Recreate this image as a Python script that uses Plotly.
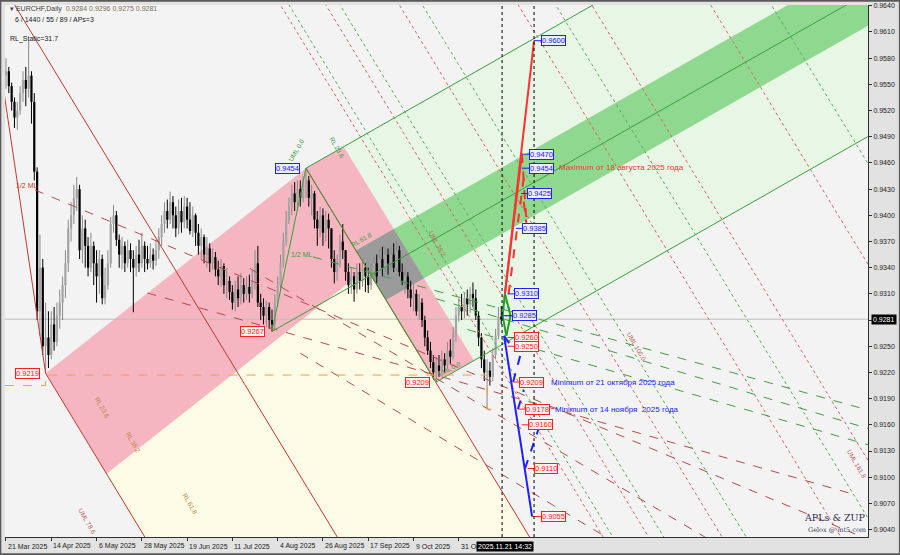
import plotly.graph_objects as go

# ---------------- data ----------------
OPEN = [0.9560, 0.9565, 0.9548, 0.9530, 0.9512, 0.9520, 0.9540, 0.9555, 0.9545, 0.9560,
        0.9530, 0.9450, 0.9290, 0.9340, 0.9250, 0.9260, 0.9240, 0.9275, 0.9255, 0.9285,
        0.9300, 0.9320, 0.9345, 0.9385, 0.9400, 0.9420, 0.9430, 0.9360, 0.9385, 0.9365,
        0.9340, 0.9365, 0.9345, 0.9330, 0.9350, 0.9305, 0.9320, 0.9345, 0.9390, 0.9400,
        0.9372, 0.9355, 0.9365, 0.9345, 0.9360, 0.9350, 0.9340, 0.9355, 0.9345, 0.9365,
        0.9350, 0.9345, 0.9355, 0.9348, 0.9360, 0.9375, 0.9390, 0.9405, 0.9395, 0.9415,
        0.9400, 0.9385, 0.9405, 0.9392, 0.9410, 0.9395, 0.9382, 0.9400, 0.9380, 0.9365,
        0.9375, 0.9355, 0.9362, 0.9345, 0.9352, 0.9338, 0.9330, 0.9342, 0.9320, 0.9325,
        0.9312, 0.9300, 0.9315, 0.9305, 0.9320, 0.9310, 0.9318, 0.9310, 0.9325, 0.9345,
        0.9300, 0.9295, 0.9285, 0.9295, 0.9280, 0.9275, 0.9300, 0.9320, 0.9345, 0.9370,
        0.9395, 0.9410, 0.9425, 0.9415, 0.9430, 0.9420, 0.9435, 0.9440, 0.9420, 0.9425,
        0.9395, 0.9385, 0.9400, 0.9380, 0.9395, 0.9385, 0.9350, 0.9335, 0.9345, 0.9370,
        0.9360, 0.9335, 0.9320, 0.9330, 0.9315, 0.9335, 0.9325, 0.9340, 0.9330, 0.9320,
        0.9335, 0.9345, 0.9330, 0.9350, 0.9340, 0.9355, 0.9345, 0.9355, 0.9340, 0.9360,
        0.9335, 0.9325, 0.9330, 0.9315, 0.9305, 0.9310, 0.9290, 0.9300, 0.9280, 0.9260,
        0.9245, 0.9232, 0.9220, 0.9228, 0.9222, 0.9235, 0.9228, 0.9245, 0.9238, 0.9265,
        0.9285, 0.9295, 0.9290, 0.9305, 0.9298, 0.9310, 0.9305, 0.9285, 0.9260, 0.9235,
        0.9220, 0.9222, 0.9215, 0.9240, 0.9262, 0.9284]
HIGH = [0.9580, 0.9570, 0.9552, 0.9535, 0.9530, 0.9548, 0.9565, 0.9570, 0.9601, 0.9565,
        0.9540, 0.9455, 0.9378, 0.9350, 0.9300, 0.9290, 0.9290, 0.9295, 0.9300, 0.9315,
        0.9330, 0.9360, 0.9395, 0.9415, 0.9435, 0.9444, 0.9435, 0.9400, 0.9395, 0.9375,
        0.9380, 0.9370, 0.9360, 0.9360, 0.9355, 0.9340, 0.9360, 0.9398, 0.9412, 0.9405,
        0.9378, 0.9375, 0.9370, 0.9372, 0.9368, 0.9360, 0.9365, 0.9372, 0.9380, 0.9370,
        0.9365, 0.9368, 0.9362, 0.9372, 0.9385, 0.9400, 0.9415, 0.9418, 0.9427, 0.9422,
        0.9410, 0.9418, 0.9420, 0.9422, 0.9420, 0.9415, 0.9410, 0.9402, 0.9390, 0.9385,
        0.9378, 0.9375, 0.9368, 0.9362, 0.9358, 0.9348, 0.9350, 0.9345, 0.9340, 0.9330,
        0.9320, 0.9325, 0.9330, 0.9334, 0.9328, 0.9330, 0.9332, 0.9337, 0.9360, 0.9365,
        0.9310, 0.9305, 0.9302, 0.9300, 0.9292, 0.9310, 0.9330, 0.9355, 0.9380, 0.9405,
        0.9420, 0.9435, 0.9438, 0.9440, 0.9440, 0.9445, 0.9454, 0.9445, 0.9435, 0.9428,
        0.9405, 0.9410, 0.9408, 0.9405, 0.9402, 0.9385, 0.9360, 0.9355, 0.9378, 0.9390,
        0.9360, 0.9345, 0.9340, 0.9335, 0.9345, 0.9345, 0.9350, 0.9345, 0.9340, 0.9345,
        0.9352, 0.9355, 0.9362, 0.9364, 0.9365, 0.9362, 0.9365, 0.9368, 0.9371, 0.9365,
        0.9345, 0.9340, 0.9335, 0.9325, 0.9322, 0.9315, 0.9310, 0.9305, 0.9285, 0.9268,
        0.9255, 0.9240, 0.9238, 0.9240, 0.9245, 0.9242, 0.9255, 0.9258, 0.9272, 0.9295,
        0.9305, 0.9310, 0.9312, 0.9315, 0.9318, 0.9323, 0.9315, 0.9290, 0.9265, 0.9245,
        0.9235, 0.9232, 0.9248, 0.9270, 0.9295, 0.9296]
LOW = [0.9545, 0.9540, 0.9520, 0.9500, 0.9498, 0.9515, 0.9530, 0.9525, 0.9535, 0.9505,
       0.9440, 0.9280, 0.9262, 0.9240, 0.9219, 0.9225, 0.9235, 0.9245, 0.9250, 0.9270,
       0.9280, 0.9305, 0.9335, 0.9370, 0.9390, 0.9405, 0.9350, 0.9345, 0.9340, 0.9330,
       0.9335, 0.9320, 0.9300, 0.9310, 0.9298, 0.9298, 0.9315, 0.9340, 0.9380, 0.9365,
       0.9340, 0.9338, 0.9335, 0.9340, 0.9335, 0.9289, 0.9330, 0.9335, 0.9340, 0.9335,
       0.9338, 0.9340, 0.9338, 0.9342, 0.9350, 0.9365, 0.9380, 0.9385, 0.9390, 0.9385,
       0.9375, 0.9378, 0.9380, 0.9385, 0.9385, 0.9378, 0.9375, 0.9365, 0.9355, 0.9350,
       0.9345, 0.9340, 0.9335, 0.9338, 0.9330, 0.9320, 0.9318, 0.9310, 0.9305, 0.9303,
       0.9292, 0.9290, 0.9295, 0.9298, 0.9300, 0.9303, 0.9300, 0.9305, 0.9315, 0.9295,
       0.9280, 0.9275, 0.9272, 0.9270, 0.9267, 0.9270, 0.9295, 0.9315, 0.9340, 0.9365,
       0.9390, 0.9400, 0.9405, 0.9405, 0.9410, 0.9415, 0.9420, 0.9410, 0.9400, 0.9385,
       0.9365, 0.9375, 0.9365, 0.9370, 0.9362, 0.9340, 0.9322, 0.9325, 0.9340, 0.9350,
       0.9325, 0.9310, 0.9310, 0.9301, 0.9310, 0.9315, 0.9318, 0.9312, 0.9311, 0.9315,
       0.9325, 0.9322, 0.9328, 0.9330, 0.9335, 0.9332, 0.9338, 0.9335, 0.9338, 0.9330,
       0.9320, 0.9310, 0.9305, 0.9295, 0.9290, 0.9285, 0.9280, 0.9272, 0.9250, 0.9240,
       0.9225, 0.9212, 0.9209, 0.9215, 0.9218, 0.9220, 0.9225, 0.9230, 0.9235, 0.9255,
       0.9278, 0.9280, 0.9282, 0.9285, 0.9288, 0.9295, 0.9280, 0.9250, 0.9225, 0.9210,
       0.9178, 0.9205, 0.9210, 0.9235, 0.9258, 0.9275]
CLOSE = [0.9565, 0.9548, 0.9530, 0.9512, 0.9520, 0.9540, 0.9555, 0.9545, 0.9560, 0.9530,
         0.9450, 0.9290, 0.9340, 0.9250, 0.9260, 0.9240, 0.9275, 0.9255, 0.9285, 0.9300,
         0.9320, 0.9345, 0.9385, 0.9400, 0.9420, 0.9430, 0.9360, 0.9385, 0.9365, 0.9340,
         0.9365, 0.9345, 0.9330, 0.9350, 0.9305, 0.9320, 0.9345, 0.9390, 0.9400, 0.9372,
         0.9355, 0.9365, 0.9345, 0.9360, 0.9350, 0.9340, 0.9355, 0.9345, 0.9365, 0.9350,
         0.9345, 0.9355, 0.9348, 0.9360, 0.9375, 0.9390, 0.9405, 0.9395, 0.9415, 0.9400,
         0.9385, 0.9405, 0.9392, 0.9410, 0.9395, 0.9382, 0.9400, 0.9380, 0.9365, 0.9375,
         0.9355, 0.9362, 0.9345, 0.9352, 0.9338, 0.9330, 0.9342, 0.9320, 0.9325, 0.9312,
         0.9300, 0.9315, 0.9305, 0.9320, 0.9310, 0.9318, 0.9310, 0.9325, 0.9345, 0.9300,
         0.9295, 0.9285, 0.9295, 0.9280, 0.9275, 0.9300, 0.9320, 0.9345, 0.9370, 0.9395,
         0.9410, 0.9425, 0.9415, 0.9430, 0.9420, 0.9435, 0.9440, 0.9420, 0.9425, 0.9395,
         0.9385, 0.9400, 0.9380, 0.9395, 0.9385, 0.9350, 0.9335, 0.9345, 0.9370, 0.9360,
         0.9335, 0.9320, 0.9330, 0.9315, 0.9335, 0.9325, 0.9340, 0.9330, 0.9320, 0.9335,
         0.9345, 0.9330, 0.9350, 0.9340, 0.9355, 0.9345, 0.9355, 0.9340, 0.9360, 0.9335,
         0.9325, 0.9330, 0.9315, 0.9305, 0.9310, 0.9290, 0.9300, 0.9280, 0.9260, 0.9245,
         0.9232, 0.9220, 0.9228, 0.9222, 0.9235, 0.9228, 0.9245, 0.9238, 0.9265, 0.9285,
         0.9295, 0.9290, 0.9305, 0.9298, 0.9310, 0.9305, 0.9285, 0.9260, 0.9235, 0.9220,
         0.9222, 0.9215, 0.9240, 0.9262, 0.9284, 0.9281]
BARS = list(range(len(CLOSE)))          # bar 0 = 21 Mar 2025, one bar per trading day

X_TICK_BARS = [0, 16, 32, 48, 64, 80, 96, 112, 128, 144, 160]
X_TICK_TEXT = ["21 Mar 2025", "14 Apr 2025", "6 May 2025", "28 May 2025", "19 Jun 2025",
               "11 Jul 2025", "4 Aug 2025", "26 Aug 2025", "17 Sep 2025", "9 Oct 2025", "31 Oct 2025"]
Y_TICKS = [0.9040, 0.9070, 0.9100, 0.9130, 0.9160, 0.9190, 0.9220, 0.9250, 0.9280, 0.9310,
           0.9340, 0.9370, 0.9400, 0.9430, 0.9460, 0.9490, 0.9520, 0.9550, 0.9580, 0.9610, 0.9640]
LAST_PRICE = 0.9281
X_RANGE = [-0.35, 304.6]
Y_RANGE = [0.90315, 0.96409]

# pitchfork anchor points (bar, price)
RED_FORK = [(-8, 0.9700), (14, 0.9219), (106, 0.9454)]
GREEN_FORK = [(94, 0.9267), (106, 0.9454), (152, 0.9209)]
PINK_A_OFFSET = -0.017
PINK_B_RL = 0.382
BAND_HALF = 0.0038
UML_LEVELS = [1.382, 1.618, 2.0, 2.618, 3.0, 3.618]
RL_LEVELS = [0.618, 1.0, 1.618, 2.618, 4.236]

# hand-drawn helper lines (bar, price) pairs
RED_DASHED = [[(10.25, 0.9429), (300, 0.9035)],
              [(86.2, 0.9339), (300, 0.8930)],
              [(50.0, 0.9311), (300, 0.9080)],
              [(104.0, 0.9242), (300, 0.8860)]]
GREEN_DASHED = [[(108.5, 0.93523), (304.6, 0.91770)],
                [(152.0, 0.93044), (304.6, 0.91558)],
                [(163.0, 0.92692), (304.6, 0.91372)]]
ORANGE_DASHED = [(-0.35, 0.9205), (14, 0.9205), (14, 0.9217), (170, 0.9217), (170, 0.9178), (176, 0.9178)]

PROJ_RED_SOLID = [[(176.3, 0.9310), (182.3, 0.9470)], [(176.3, 0.9310), (186.6, 0.9600)]]
PROJ_RED_DASH = [[(182.3, 0.9470), (184.1, 0.9385)], [(177.6, 0.9310), (183.4, 0.9454)],
                 [(184.1, 0.9385), (182.6, 0.9425)]]
PROJ_BLUE_SOLID = [[(176.0, 0.9262), (185.9, 0.9055)]]
PROJ_BLUE_DASH = [[(179.2, 0.9209), (182.6, 0.9250)], [(180.9, 0.9178), (183.0, 0.9200)],
                  [(183.4, 0.9110), (188.7, 0.9160)], [(176.0, 0.9262), (178.5, 0.9250)]]
PROJ_GREEN = [[(176.3, 0.9310), (175.5, 0.9285), (176.8, 0.9262)],
              [(176.3, 0.9310), (178.3, 0.9285), (176.8, 0.9262)]]

BLUE_LABELS = [(0.9600, 186.6, 189.0), (0.9470, 182.3, 184.8), (0.9454, 182.3, 184.8),
               (0.9425, 182.0, 184.1), (0.9385, 180.2, 182.3), (0.9310, 177.2, 179.5),
               (0.9285, 176.5, 178.8)]
RED_LABELS = [(0.9260, 177.2, 179.5), (0.9250, 177.2, 179.5), (0.9209, 179.2, 181.3),
              (0.9178, 181.0, 183.4), (0.9160, 182.2, 184.5), (0.9110, 184.3, 186.6),
              (0.9055, 186.0, 189.0)]
LEFT_LABELS = [(0.9454, 95.1, "blue"), (0.9267, 82.7, "red"), (0.9219, 3.2, "red"), (0.9209, 141.0, "red")]

FONT = "Liberation Sans"
FAR = 420.0


# ---------------- geometry helpers ----------------
def slope(a, b):
    return (b[1] - a[1]) / (b[0] - a[0])


def at(p, m, x):
    return (x, p[1] + m * (x - p[0]))


def cross(p, m1, q, m2):
    x = (q[1] - p[1] + m1 * p[0] - m2 * q[0]) / (m1 - m2)
    return (x, p[1] + m1 * (x - p[0]))


R0, R1, R2 = RED_FORK
RM = ((R1[0] + R2[0]) / 2, (R1[1] + R2[1]) / 2)
m_r = slope(R0, RM)
h_r = slope(R1, R2)
D_r = (R2[0] - R0[0]) - (R2[1] - R0[1]) / m_r

G0, G1, G2 = GREEN_FORK
GM = ((G1[0] + G2[0]) / 2, (G1[1] + G2[1]) / 2)
m_g = slope(G0, GM)
h_g = slope(G1, G2)
RL_UNIT = GM[0] - G0[0]

fig = go.Figure()


def poly(pts, color):
    fig.add_trace(go.Scatter(x=[p[0] for p in pts] + [pts[0][0]], y=[p[1] for p in pts] + [pts[0][1]],
                             mode="lines", fill="toself", fillcolor=color, line=dict(width=0),
                             hoverinfo="skip", showlegend=False))


def seg(pts, color, width=1, dash="solid"):
    fig.add_trace(go.Scatter(x=[p[0] for p in pts], y=[p[1] for p in pts], mode="lines",
                             line=dict(color=color, width=width, dash=dash),
                             hoverinfo="skip", showlegend=False))


# cream: red fork interior
poly([R1, R2, at(R2, m_r, FAR), at(R1, m_r, FAR)], "#fbfbe6")
# pink A: band along red fork handle
OFF = (R1[0], R1[1] + PINK_A_OFFSET)
poly([R1, R2, cross(R2, m_r, OFF, h_r), cross(R1, m_r, OFF, h_r)], "#f5b6c1")
# light green: green fork interior
poly([G1, at(G1, m_g, FAR), at(G2, m_g, FAR), G2], "#e7f6e5")
# pink B: between handle and RL 38.2
Q = at(GM, m_g, GM[0] + RL_UNIT * PINK_B_RL)
poly([G1, G2, cross(G2, m_g, Q, h_g), cross(G1, m_g, Q, h_g)], "#f5b6c1")
# dark green band around green median
UB = (G0[0], G0[1] + BAND_HALF)
LB = (G0[0], G0[1] - BAND_HALF)
poly([cross(G1, h_g, UB, m_g), at(UB, m_g, FAR), at(LB, m_g, FAR), cross(G1, h_g, LB, m_g)], "#8fd88f")
poly([cross(G1, h_g, UB, m_g), cross(Q, h_g, UB, m_g), cross(Q, h_g, LB, m_g), cross(G1, h_g, LB, m_g)], "#9b9b9b")

# current price line
seg([(X_RANGE[0], LAST_PRICE), (X_RANGE[1], LAST_PRICE)], "#bdbdbd", 1)


# candles (wicks + bodies as line segments so they sit above the filled zones)
def candle_traces(up):
    wx, wy, bx, by = [], [], [], []
    for b, o, h, l, c in zip(BARS, OPEN, HIGH, LOW, CLOSE):
        if (c >= o) != up:
            continue
        wx += [b, b, None]
        wy += [l, h, None]
        lo, hi = min(o, c), max(o, c)
        if hi - lo < 0.00012:
            hi = lo + 0.00012
        bx += [b, b, None]
        by += [lo, hi, None]
    col_w = "#8a8a8a" if up else "#000000"
    col_b = "#a4a4a4" if up else "#000000"
    fig.add_trace(go.Scatter(x=wx, y=wy, mode="lines", line=dict(color=col_w, width=1),
                             hoverinfo="skip", showlegend=False))
    fig.add_trace(go.Scatter(x=bx, y=by, mode="lines", line=dict(color=col_b, width=2.2),
                             hoverinfo="skip", showlegend=False))


candle_traces(True)
candle_traces(False)

# red fork lines
seg([R0, at(R0, m_r, FAR)], "#c0392b", 1)
seg([R0, R1], "#c0392b", 1)
seg([R1, at(R1, m_r, FAR)], "#c0392b", 1)
seg([R2, at(R2, m_r, FAR)], "#c0392b", 1)
for k in UML_LEVELS:
    s = (k - 1) * D_r
    p = (R2[0] + s, R2[1])
    seg([at(p, m_r, -50), at(p, m_r, FAR)], "#e06060", 1, "dot")
for pts in RED_DASHED:
    seg(pts, "#b84a4a", 1, "dash")

# green fork lines
seg([G0, at(G0, m_g, FAR)], "#3aa03a", 1)
seg([G0, G1], "#3aa03a", 1)
seg([G1, G2], "#3aa03a", 1)
seg([G1, at(G1, m_g, FAR)], "#3aa03a", 1)
seg([G2, at(G2, m_g, FAR)], "#3aa03a", 1)
for f in RL_LEVELS:
    p = at(GM, m_g, GM[0] + RL_UNIT * f)
    seg([at(p, h_g, -50), at(p, h_g, FAR)], "#55b055", 1, "dot")
for pts in GREEN_DASHED:
    seg(pts, "#3f9f3f", 1, "dash")

seg(ORANGE_DASHED, "#f0a040", 1, "dash")

# projections
for pts in PROJ_RED_SOLID:
    seg(pts, "#ff3030", 2)
for pts in PROJ_RED_DASH:
    seg(pts, "#ff3030", 2, "dash")
for pts in PROJ_BLUE_SOLID:
    seg(pts, "#2020ff", 2)
for pts in PROJ_BLUE_DASH:
    seg(pts, "#2020ff", 2, "dash")
for pts in PROJ_GREEN:
    seg(pts, "#20a020", 2)
seg([(175.3, 0.9285), (178.6, 0.9285)], "#2020ff", 1)

ann = []


def box(bar, price, color, bg):
    ann.append(dict(x=bar, y=price, xref="x", yref="y", text="%.4f" % price, showarrow=False,
                    xanchor="left", yanchor="middle", font=dict(size=7.5, color=color, family=FONT),
                    bordercolor=color, borderwidth=1, borderpad=0, bgcolor=bg))


for price, t0, b in BLUE_LABELS:
    seg([(t0, price), (b, price)], "#2020ff", 1)
    box(b, price, "#2020ff", "#eeeeff")
for price, t0, b in RED_LABELS:
    seg([(t0, price), (b, price)], "#ff2020", 1)
    box(b, price, "#ff2020", "#fff2f2")
for price, b, c in LEFT_LABELS:
    if c == "blue":
        box(b, price, "#2020ff", "#eeeeff")
    else:
        box(b, price, "#ff2020", "#fff2f2")


def txt(x, y, s, color, size=7, xref="x", yref="y", angle=0, family=FONT, xanchor="left"):
    ann.append(dict(x=x, y=y, xref=xref, yref=yref, text=s, showarrow=False, xanchor=xanchor,
                    yanchor="middle", textangle=angle, font=dict(size=size, color=color, family=family)))


txt(194.7, 0.9455, "Maximum от 18 августа 2025 года", "#ff3030", 8)
txt(191.9, 0.9208, "Minimum от 21 октября 2025 года", "#2020ff", 8)
txt(193.3, 0.9177, "Minimum от 14 ноября  2025 года", "#2020ff", 8)
txt(2.8, 0.94347, "1/2 ML", "#c0392b", 7)
txt(100.0, 0.93546, "1/2 ML", "#3a9a3a", 7)
txt(148.0, 0.9368, "UML 38.2", "#c06060", 6.5, angle=60)
txt(218.0, 0.9250, "UML 100.0", "#c06060", 6.5, angle=60)
txt(296.0, 0.9115, "UML 161.8", "#c06060", 6.5, angle=60)
txt(24.0, 0.9050, "UML 78.6", "#c06060", 6.5, angle=60)
txt(98.5, 0.9475, "UML 0.0", "#3a9a3a", 6.5, angle=-60)
txt(113.0, 0.9478, "RL 23.6", "#3a9a3a", 6.5, angle=60)
txt(120.5, 0.9372, "RL 61.8", "#3a9a3a", 6.5, angle=-30)
txt(151.5, 0.9224, "LML 0.0", "#3a9a3a", 6.5, angle=-28)
txt(30.0, 0.9180, "RL 23.6", "#c08040", 6.5, angle=60)
txt(41.0, 0.9140, "RL 38.2", "#c08040", 6.5, angle=60)
txt(61.0, 0.9070, "RL 61.8", "#c08040", 6.5, angle=60)

# header
txt(0.003, 0.992, "▾ EURCHF,Daily  <span style='color:#7a7050'>0.9284 0.9296 0.9275 0.9281</span>",
    "#404040", 7, xref="paper", yref="paper")
txt(0.009, 0.972, "6 / 1440 / 55 / 89 / APs=3", "#202020", 7, xref="paper", yref="paper")
txt(0.004, 0.936, "RL_Static=31.7", "#202020", 7, xref="paper", yref="paper")
# watermark
txt(0.9995, 0.036, "APLs & ZUP", "#303050", 9.5, xref="paper", yref="paper",
    family="DejaVu Serif", xanchor="right")
txt(0.9995, 0.013, "Gelox @ mt5.com", "#404060", 6.5, xref="paper", yref="paper",
    family="DejaVu Serif", xanchor="right")

# x labels
for b, s in zip(X_TICK_BARS, X_TICK_TEXT):
    ann.append(dict(x=b, y=-0.017, xref="x", yref="paper", text=s, showarrow=False, xanchor="left",
                    yanchor="middle", font=dict(size=7, color="#202020", family=FONT)))
ann.append(dict(x=176.3, y=-0.017, xref="x", yref="paper", text="2025.11.21 14:32", showarrow=False,
                xanchor="center", yanchor="middle", bgcolor="#000000",
                font=dict(size=7, color="#ffffff", family=FONT)))
ann.append(dict(x=1.0, y=LAST_PRICE, xref="paper", yref="y", text="0.9281", showarrow=False,
                xanchor="left", yanchor="middle", bgcolor="#000000", xshift=3,
                font=dict(size=7, color="#ffffff", family=FONT)))

shapes = [
    dict(type="line", xref="x", yref="paper", x0=175.3, x1=175.3, y0=0, y1=1,
         line=dict(color="#000000", width=1, dash="dot")),
    dict(type="line", xref="x", yref="paper", x0=186.6, x1=186.6, y0=0, y1=1,
         line=dict(color="#000000", width=1, dash="dot")),
    dict(type="rect", xref="paper", yref="paper", x0=-0.006, x1=1.0375, y0=-0.0335, y1=1.009,
         line=dict(color="#5a5a5a", width=3), layer="below"),
]

fig.update_layout(
    width=900, height=555, margin=dict(l=5, r=32, t=5, b=18),
    paper_bgcolor="#e2e2e2", plot_bgcolor="#f3f3f3",
    annotations=ann, shapes=shapes, hovermode=False, showlegend=False,
    xaxis=dict(range=X_RANGE, showgrid=False, zeroline=False,
               tickmode="array", tickvals=X_TICK_BARS, showticklabels=False, ticks="outside",
               ticklen=3, tickcolor="#303030", showline=True, linecolor="#303030", linewidth=1),
    yaxis=dict(range=Y_RANGE, side="right", showgrid=False, zeroline=False, tickmode="array",
               tickvals=Y_TICKS, ticktext=["%.4f" % v for v in Y_TICKS], ticks="outside", ticklen=3,
               tickcolor="#303030", tickfont=dict(size=7, color="#202020", family=FONT),
               showline=True, linecolor="#303030", linewidth=1, automargin=False),
)

fig.write_html("out.html", config={"displayModeBar": False},
               post_script="document.body.style.margin='0px';document.body.style.overflow='hidden';")
